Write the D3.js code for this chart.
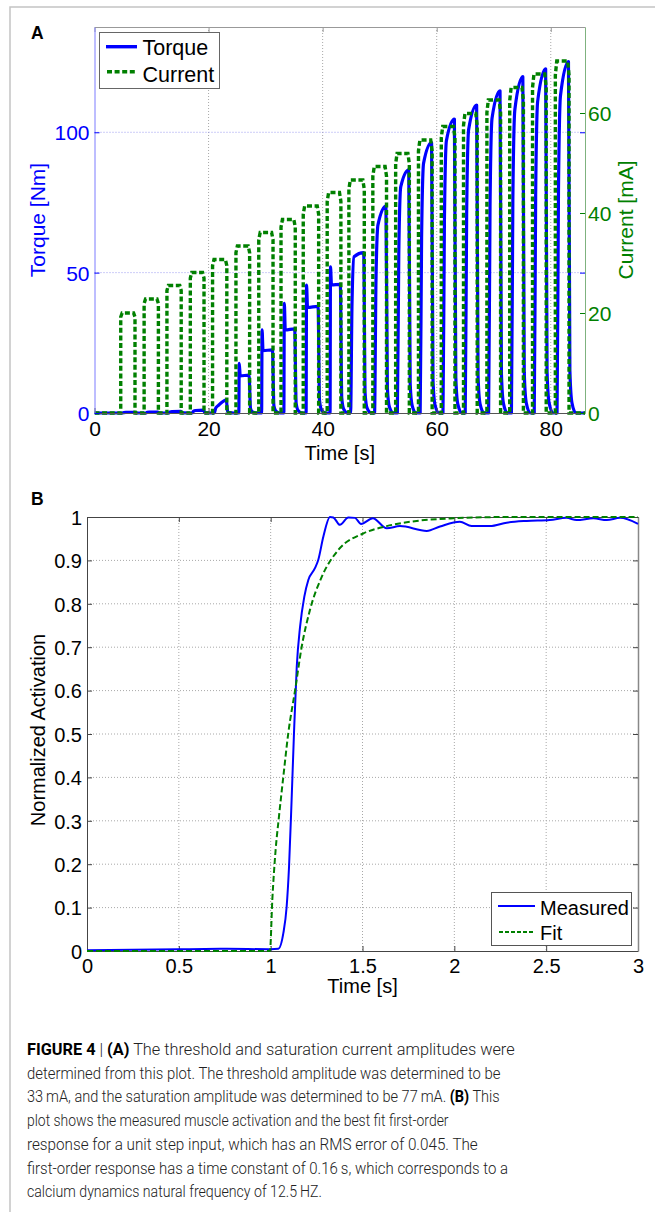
<!DOCTYPE html>
<html>
<head>
<meta charset="utf-8">
<script src="https://cdn.jsdelivr.net/npm/d3@7"></script>
<style>
  body { margin: 0; background: #fff; }
  svg { display: block; }
  svg text { font-family: "Liberation Sans", Arial, sans-serif; }
  svg .caption text { font-family: Roboto, "Liberation Sans", sans-serif; }
</style>
</head>
<body>
<div id="chart"></div>
<script>
var w = 655;
var h = 1212;

// ---- panel A: stimulation pulses (time in s, current in mA, torque in Nm)
var pulseStart = [4.6, 8.7, 12.7, 16.8, 20.7, 24.8, 28.8, 32.7, 36.6, 40.8, 44.6, 48.8, 52.8, 56.8, 60.8, 64.7, 68.8, 72.8, 76.8, 80.8];
var pulseEnd   = [7.1, 11.2, 15.2, 19.2, 23.2, 27.2, 31.3, 35.2, 39.3, 43.2, 47.3, 51.2, 55.2, 59.2, 63.2, 67.1, 71.2, 75.2, 79.2, 83.2];
var currentAmp = [20, 22.8, 25.5, 28.1, 30.7, 33.4, 36.1, 38.7, 41.4, 44.1, 46.6, 49.3, 51.9, 54.6, 57.3, 59.9, 62.6, 65.1, 67.8, 70.4];
var torqueSpike = [null, null, null, null, null, 17.7, 29.6, 39.1, 45.6, 52.1, null, null, null, null, null, null, null, null, null, null];
var torqueKnee  = [0.2, 0.3, 0.5, 0.9, 2.5, 13.2, 22.2, 29.6, 37.6, 45.6, 55.7, 67, 80.6, 89, 97, 101, 105, 108, 111, 113];
var torqueEnd   = [0.2, 0.3, 0.6, 1.0, 4.6, 13.5, 22.5, 30, 38, 45.8, 57.1, 73.7, 86.6, 96.3, 104.7, 109.7, 114.8, 119.8, 122.6, 125.2];

var timeTicksA = [0, 20, 40, 60, 80];
var torqueTicks = [0, 50, 100];
var currentTicks = [0, 20, 40, 60];

// ---- panel B: step response (time in s, normalized activation)
var measuredT = [0, 0.25, 0.5, 0.75, 1.0, 1.042, 1.069, 1.087, 1.1, 1.114, 1.127, 1.142, 1.16, 1.183, 1.205, 1.241, 1.259, 1.287, 1.323, 1.341, 1.377, 1.423, 1.459, 1.492, 1.556, 1.632, 1.704, 1.85, 1.922, 2.03, 2.094, 2.194, 2.285, 2.394, 2.52, 2.61, 2.666, 2.757, 2.83, 2.902, 3.0];
var measuredV = [0.002, 0.003, 0.004, 0.005, 0.004, 0.005, 0.041, 0.102, 0.194, 0.348, 0.502, 0.655, 0.747, 0.816, 0.855, 0.882, 0.901, 0.955, 1.0, 0.999, 0.982, 0.999, 0.998, 0.984, 0.997, 0.974, 0.979, 0.968, 0.978, 0.989, 0.979, 0.979, 0.987, 0.991, 0.993, 0.998, 0.993, 0.997, 0.993, 0.998, 0.984];
var fitT = [0, 0.996, 1.009, 1.027, 1.045, 1.069, 1.096, 1.133, 1.169, 1.214, 1.278, 1.368, 1.504, 1.632, 1.795, 1.994, 2.3, 3.0];
var fitV = [0, 0, 0.118, 0.233, 0.309, 0.402, 0.502, 0.601, 0.701, 0.786, 0.862, 0.924, 0.962, 0.979, 0.991, 0.997, 1.0, 1.0];

var timeTicksB = [0, 0.5, 1, 1.5, 2, 2.5, 3];
var actTicks = d3.ticks(0, 1, 10);

var captionLines = [
  [["b", "FIGURE 4"], ["r", " | "], ["b", "(A)"], ["r", " The threshold and saturation current amplitudes were"]],
  [["r", "determined from this plot. The threshold amplitude was determined to be"]],
  [["r", "33\u2009mA, and the saturation amplitude was determined to be 77\u2009mA. "], ["b", "(B)"], ["r", " This"]],
  [["r", "plot shows the measured muscle activation and the best fit first-order"]],
  [["r", "response for a unit step input, which has an RMS error of 0.045. The"]],
  [["r", "first-order response has a time constant of 0.16\u2009s, which corresponds to a"]],
  [["r", "calcium dynamics natural frequency of 12.5\u2009HZ."]]
];
var captionWidths = [488, 474, 473, 422, 451, 481, 295];

var blue = "#0000ff";
var green = "#008000";

var svg = d3.select("#chart").append("svg")
  .attr("width", w)
  .attr("height", h);

// outer frame (only left and top visible)
svg.append("path")
  .attr("d", "M10,1212 V7 H655")
  .attr("fill", "none")
  .attr("stroke", "#c4c4c4")
  .attr("stroke-width", 1.5);

// ================= PANEL A =================
var A = { left: 94.5, right: 585, top: 27, bottom: 413 };

var xA = d3.scaleLinear().domain([0, 86]).range([A.left, A.right]);
var yT = d3.scaleLinear().domain([0, 137.5]).range([A.bottom, A.top]);
var yC = d3.scaleLinear().domain([0, 77.2]).range([A.bottom, A.top]);

svg.append("defs").append("clipPath").attr("id", "clipA")
  .append("rect")
  .attr("x", A.left).attr("y", A.top - 4)
  .attr("width", A.right - A.left).attr("height", A.bottom - A.top + 6);

var gA = svg.append("g");

// grid
gA.selectAll(".vgridA")
  .data(timeTicksA.filter(function(d) { return d > 0; }))
  .enter().append("line")
  .attr("x1", function(d) { return xA(d); })
  .attr("x2", function(d) { return xA(d); })
  .attr("y1", A.top).attr("y2", A.bottom)
  .attr("stroke", "#a8a8a8").attr("stroke-dasharray", "1,2");

gA.selectAll(".hgridA")
  .data(torqueTicks.filter(function(d) { return d > 0; }))
  .enter().append("line")
  .attr("x1", A.left).attr("x2", A.right)
  .attr("y1", function(d) { return yT(d); })
  .attr("y2", function(d) { return yT(d); })
  .attr("stroke", "#9a9af0").attr("stroke-dasharray", "1,2");

// torque line
var torquePts = [[0, 0]];
pulseStart.forEach(function(s, i) {
  var e = pulseEnd[i];
  var sp = torqueSpike[i];
  if (sp !== null) {
    torquePts.push([s + 0.5, 0], [s + 0.58, sp], [s + 0.75, torqueKnee[i]]);
  } else {
    torquePts.push([s + 0.3, 0], [s + 0.55, torqueKnee[i] * 0.7], [s + 0.9, torqueKnee[i]]);
  }
  torquePts.push([e - 0.1, torqueEnd[i]], [e + 0.15, torqueEnd[i] * 0.12], [e + 0.5, torqueEnd[i] * 0.03], [e + 1.2, 0]);
});
torquePts.push([86, 0]);

var torqueLine = d3.line()
  .x(function(d) { return xA(d[0]); })
  .y(function(d) { return yT(d[1]); })
  .curve(d3.curveMonotoneX);

gA.append("path")
  .datum(torquePts)
  .attr("clip-path", "url(#clipA)")
  .attr("d", torqueLine)
  .attr("fill", "none")
  .attr("stroke", blue)
  .attr("stroke-width", 3.2)
  .attr("stroke-linejoin", "round");

// current line
var currentPts = [[0, 0]];
pulseStart.forEach(function(s, i) {
  var e = pulseEnd[i], a = currentAmp[i];
  currentPts.push([s, 0], [s, a * 0.96], [s + 0.25, a], [e - 0.25, a], [e, a * 0.96], [e, 0]);
});
currentPts.push([86, 0]);

var currentLine = d3.line()
  .x(function(d) { return xA(d[0]); })
  .y(function(d) { return yC(d[1]); });

gA.append("path")
  .datum(currentPts)
  .attr("clip-path", "url(#clipA)")
  .attr("d", currentLine)
  .attr("fill", "none")
  .attr("stroke", green)
  .attr("stroke-width", 3.4)
  .attr("stroke-dasharray", "5,2.6");

// axes A
var axA = gA.append("g")
  .attr("transform", "translate(0," + A.bottom + ")")
  .call(d3.axisBottom(xA).tickValues(timeTicksA).tickSizeInner(-5).tickSizeOuter(0));
axA.select(".domain").attr("stroke", "#555");
axA.selectAll(".tick line").attr("stroke", "#555");
axA.selectAll("text").attr("y", 23).attr("dy", null)
  .style("font-size", "21px").attr("fill", "#000");

var topA = gA.append("g")
  .attr("transform", "translate(0," + A.top + ")")
  .call(d3.axisTop(xA).tickValues(timeTicksA).tickSizeInner(-5).tickSizeOuter(0).tickFormat(""));
topA.select(".domain").attr("stroke", "#999");
topA.selectAll(".tick line").attr("stroke", "#999");

var leftA = gA.append("g")
  .attr("transform", "translate(" + A.left + ",0)")
  .call(d3.axisLeft(yT).tickValues(torqueTicks).tickSizeInner(-5).tickSizeOuter(0).tickPadding(5));
leftA.select(".domain").attr("stroke", "#7c7cff");
leftA.selectAll(".tick line").attr("stroke", blue);
leftA.selectAll("text").style("font-size", "21px").attr("fill", blue).attr("dy", "0.36em");

var rightTA = gA.append("g")
  .attr("transform", "translate(" + A.right + ",0)")
  .call(d3.axisRight(yT).tickValues(torqueTicks).tickSizeInner(-5).tickSizeOuter(0).tickFormat(""));
rightTA.select(".domain").remove();
rightTA.selectAll(".tick line").attr("stroke", blue);

var rightA = gA.append("g")
  .attr("transform", "translate(" + A.right + ",0)")
  .call(d3.axisRight(yC).tickValues(currentTicks).tickSizeInner(-5).tickSizeOuter(0).tickPadding(3));
rightA.select(".domain").attr("stroke", "#7fb27f");
rightA.selectAll(".tick line").attr("stroke", green);
rightA.selectAll("text").style("font-size", "21px").attr("fill", green).attr("dy", "0.36em");

// axis labels A
gA.append("text")
  .attr("transform", "translate(45," + ((A.top + A.bottom) / 2) + ") rotate(-90)")
  .attr("text-anchor", "middle")
  .style("font-size", "21px")
  .attr("fill", blue)
  .text("Torque [Nm]");

gA.append("text")
  .attr("transform", "translate(633," + ((A.top + A.bottom) / 2) + ") rotate(-90)")
  .attr("text-anchor", "middle")
  .style("font-size", "21px")
  .attr("fill", green)
  .text("Current [mA]");

gA.append("text")
  .attr("x", (A.left + A.right) / 2).attr("y", 459.5)
  .attr("text-anchor", "middle")
  .style("font-size", "20px")
  .text("Time [s]");

gA.append("text")
  .attr("x", 31).attr("y", 38.5)
  .style("font-size", "17.5px").style("font-weight", "bold")
  .text("A");

// legend A
var legA = gA.append("g");
legA.append("rect")
  .attr("x", 99.5).attr("y", 32.5).attr("width", 120).attr("height", 56)
  .attr("fill", "#fff").attr("stroke", "#666");
legA.append("line")
  .attr("x1", 106).attr("x2", 137).attr("y1", 46.7).attr("y2", 46.7)
  .attr("stroke", blue).attr("stroke-width", 3.4);
legA.append("line")
  .attr("x1", 107).attr("x2", 137).attr("y1", 71.7).attr("y2", 71.7)
  .attr("stroke", green).attr("stroke-width", 3.4).attr("stroke-dasharray", "5,2.6");
legA.append("text").attr("x", 142.5).attr("y", 55).style("font-size", "21.5px").text("Torque");
legA.append("text").attr("x", 142.5).attr("y", 81.5).style("font-size", "21.5px").text("Current");

// ================= PANEL B =================
var B = { left: 87, right: 638, top: 517, bottom: 951 };

var xB = d3.scaleLinear().domain([0, 3]).range([B.left, B.right]);
var yB = d3.scaleLinear().domain([0, 1]).range([B.bottom, B.top]);

var gB = svg.append("g");

gB.selectAll(".vgridB")
  .data(timeTicksB.slice(1, -1))
  .enter().append("line")
  .attr("x1", function(d) { return xB(d); })
  .attr("x2", function(d) { return xB(d); })
  .attr("y1", B.top).attr("y2", B.bottom)
  .attr("stroke", "#a8a8a8").attr("stroke-dasharray", "1,2");

gB.selectAll(".hgridB")
  .data(actTicks.slice(1, -1))
  .enter().append("line")
  .attr("x1", B.left).attr("x2", B.right)
  .attr("y1", function(d) { return yB(d); })
  .attr("y2", function(d) { return yB(d); })
  .attr("stroke", "#a8a8a8").attr("stroke-dasharray", "1,2");

var fmt = d3.format("~g");

var axB = gB.append("g")
  .attr("transform", "translate(0," + B.bottom + ")")
  .call(d3.axisBottom(xB).tickValues(timeTicksB).tickFormat(fmt).tickSizeInner(-5).tickSizeOuter(0));
axB.selectAll("text").attr("y", 22).attr("dy", null).style("font-size", "20px");

var topB = gB.append("g")
  .attr("transform", "translate(0," + B.top + ")")
  .call(d3.axisTop(xB).tickValues(timeTicksB).tickFormat("").tickSizeInner(-5).tickSizeOuter(0));

var leftB = gB.append("g")
  .attr("transform", "translate(" + B.left + ",0)")
  .call(d3.axisLeft(yB).tickValues(actTicks).tickFormat(fmt).tickSizeInner(-5).tickSizeOuter(0).tickPadding(5));
leftB.selectAll("text").style("font-size", "20px").attr("dy", "0.36em");

var rightB = gB.append("g")
  .attr("transform", "translate(" + B.right + ",0)")
  .call(d3.axisRight(yB).tickValues(actTicks).tickFormat("").tickSizeInner(-5).tickSizeOuter(0));

[axB, topB, leftB, rightB].forEach(function(g) {
  g.select(".domain").attr("stroke", "#444");
  g.selectAll(".tick line").attr("stroke", "#444");
});
rightB.select(".domain").attr("stroke", "#888").attr("stroke-width", 1.5);

var lineB = d3.line()
  .x(function(d) { return xB(d[0]); })
  .y(function(d) { return yB(d[1]); })
  .curve(d3.curveMonotoneX);

gB.append("path")
  .datum(measuredT.map(function(t, i) { return [t, measuredV[i]]; }))
  .attr("d", lineB)
  .attr("fill", "none").attr("stroke", blue).attr("stroke-width", 2);

gB.append("path")
  .datum(fitT.map(function(t, i) { return [t, fitV[i]]; }))
  .attr("d", lineB)
  .attr("fill", "none").attr("stroke", green).attr("stroke-width", 2)
  .attr("stroke-dasharray", "6,3");

gB.append("text")
  .attr("transform", "translate(45," + ((B.top + B.bottom) / 2 - 4) + ") rotate(-90)")
  .attr("text-anchor", "middle")
  .style("font-size", "20px")
  .text("Normalized Activation");

gB.append("text")
  .attr("x", (B.left + B.right) / 2).attr("y", 993)
  .attr("text-anchor", "middle")
  .style("font-size", "20px")
  .text("Time [s]");

gB.append("text")
  .attr("x", 31).attr("y", 505)
  .style("font-size", "17.5px").style("font-weight", "bold")
  .text("B");

var legB = gB.append("g");
legB.append("rect")
  .attr("x", 491.5).attr("y", 892.5).attr("width", 140).attr("height", 53)
  .attr("fill", "#fff").attr("stroke", "#555");
legB.append("line")
  .attr("x1", 498).attr("x2", 535).attr("y1", 906).attr("y2", 906)
  .attr("stroke", blue).attr("stroke-width", 2);
legB.append("line")
  .attr("x1", 499).attr("x2", 535).attr("y1", 932).attr("y2", 932)
  .attr("stroke", green).attr("stroke-width", 2).attr("stroke-dasharray", "4,2");
legB.append("text").attr("x", 540).attr("y", 915).style("font-size", "20px").text("Measured");
legB.append("text").attr("x", 540).attr("y", 940).style("font-size", "20px").text("Fit");

// ================= CAPTION =================
var cap = svg.append("g")
  .attr("class", "caption")
  .style("font-size", "16.5px")
  .attr("fill", "#222");

captionLines.forEach(function(parts, i) {
  var t = cap.append("text")
    .attr("x", 0)
    .attr("y", 0);
  parts.forEach(function(p) {
    t.append("tspan")
      .style("font-weight", p[0] === "b" ? "700" : "300")
      .attr("fill", p[0] === "b" ? "#000" : "#222")
      .text(p[1]);
  });
  // stretch each line to the width it has in the figure
  var natural = t.node().getComputedTextLength();
  var k = natural > 0 ? captionWidths[i] / natural : 1;
  t.attr("transform", "translate(27," + (1055 + i * 23.7) + ") scale(" + k + ",1)");
});
</script>
</body>
</html>
